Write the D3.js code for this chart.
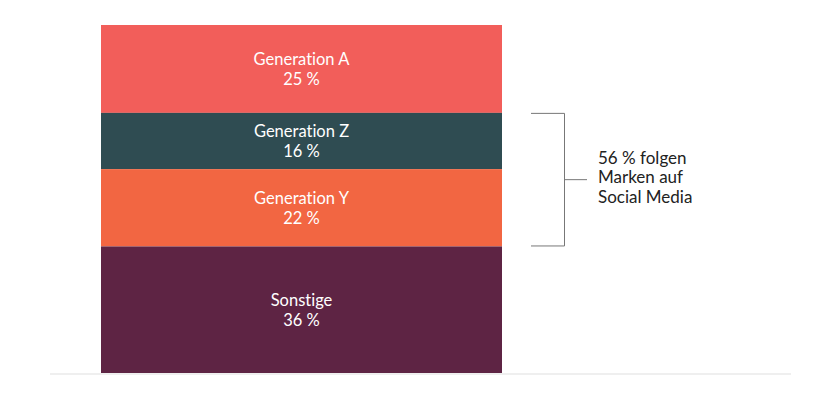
<!DOCTYPE html>
<html>
<head>
<meta charset="utf-8">
<script src="https://cdn.jsdelivr.net/npm/d3@7"></script>
<style>
  body { margin: 0; background: #fff; }
  text { font-family: "Source Sans Pro", Lato, "Open Sans", sans-serif; font-variant-ligatures: none; }
</style>
</head>
<body>
<div id="chart"></div>
<script>
// data, top to bottom
const categories = ["Generation A", "Generation Z", "Generation Y", "Sonstige"];
const shares = [25, 16, 22, 36];
const colors = ["#f25e5a", "#2f4c52", "#f26642", "#5e2444"];
const bracketFrom = "Generation Z";
const bracketTo = "Generation Y";
const bracketLabel = ["56 % folgen", "Marken auf", "Social Media"];

const width = 840, height = 398;
const margin = { top: 25, bottom: 25 };
const total = d3.sum(shares);

const svg = d3.select("#chart").append("svg")
  .attr("width", width)
  .attr("height", height);

const yscale = d3.scaleLinear()
  .domain([0, total])
  .range([margin.top, height - margin.bottom]);

const xscale = d3.scaleBand()
  .domain(["all"])
  .range([101, 502])
  .padding(0);

// stack the shares
let acc = 0;
const stacked = categories.map((c, i) => {
  const d = { name: c, value: shares[i], y0: acc, y1: acc + shares[i], color: colors[i] };
  acc += shares[i];
  return d;
});

// baseline
svg.append("line")
  .attr("x1", 50).attr("x2", 791)
  .attr("y1", yscale(total) + 1).attr("y2", yscale(total) + 1)
  .attr("stroke", "#efefef")
  .attr("stroke-width", 2);

svg.selectAll(".seg")
  .data(stacked)
  .enter().append("rect")
  .attr("class", "seg")
  .attr("x", xscale("all"))
  .attr("width", xscale.bandwidth())
  .attr("y", d => yscale(d.y0))
  .attr("height", d => yscale(d.y1) - yscale(d.y0))
  .attr("fill", d => d.color);

const labels = svg.selectAll(".lbl")
  .data(stacked)
  .enter().append("text")
  .attr("class", "lbl")
  .attr("text-anchor", "middle")
  .attr("fill", "#fff")
  .attr("font-size", 16.5);

labels.append("tspan")
  .attr("x", xscale("all") + xscale.bandwidth() / 2)
  .attr("y", d => (yscale(d.y0) + yscale(d.y1)) / 2 - 4)
  .text(d => d.name);

labels.append("tspan")
  .attr("x", xscale("all") + xscale.bandwidth() / 2)
  .attr("y", d => (yscale(d.y0) + yscale(d.y1)) / 2 + 16)
  .text(d => d.value + " %");

// bracket
const b0 = stacked.find(d => d.name === bracketFrom);
const b1 = stacked.find(d => d.name === bracketTo);
const bTop = yscale(b0.y0), bBot = yscale(b1.y1), bMid = (bTop + bBot) / 2;
const bx = 564.5;

svg.append("path")
  .attr("d", `M531,${bTop + 0.5}H${bx}V${bBot - 0.5}H531M${bx},${bMid}H587`)
  .attr("fill", "none")
  .attr("stroke", "#777")
  .attr("stroke-width", 1);

const note = svg.append("text")
  .attr("font-size", 17)
  .attr("fill", "#222");

note.selectAll("tspan")
  .data(bracketLabel)
  .enter().append("tspan")
  .attr("x", 598)
  .attr("y", (d, i) => bMid - 16 + i * 19.5)
  .text(d => d);
</script>
</body>
</html>
